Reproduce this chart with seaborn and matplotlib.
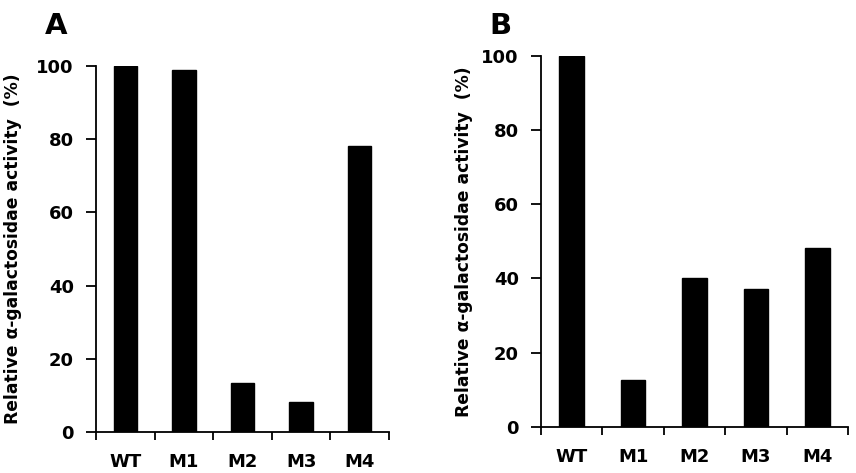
import matplotlib
matplotlib.use("Agg")
import matplotlib.pyplot as plt
import seaborn as sns
import pandas as pd
import numpy as np

sns.set_theme(style="ticks")
plt.rcParams['font.family'] = ['DejaVu Sans']
plt.rcParams['text.color'] = 'black'
plt.rcParams['axes.labelcolor'] = 'black'
plt.rcParams['xtick.color'] = 'black'
plt.rcParams['ytick.color'] = 'black'

strains = ["WT", "M1", "M2", "M3", "M4"]
activity_a = [100, 99, 13.3, 8.1, 78.2]
activity_b = [100, 12.6, 40.0, 37.1, 48.1]
ylabel = "Relative \u03b1-galactosidae activity  (%)"


def draw_panel(ax, values, letter, label_x):
    df = pd.DataFrame({"strain": strains, "activity": values})
    sns.barplot(data=df, x="strain", y="activity", color="black",
                width=0.4, ax=ax, saturation=1)
    ax.set_xlim(-0.5, len(strains) - 0.5)
    ax.set_ylim(0, 100)
    ax.set_yticks([0, 20, 40, 60, 80, 100])
    ax.set_xlabel("")
    ax.set_ylabel(ylabel, fontsize=12.3, fontweight="bold")
    ax.yaxis.set_label_coords(label_x, 0.5)
    sns.despine(ax=ax)
    for s in ["left", "bottom"]:
        ax.spines[s].set_linewidth(1.3)
        ax.spines[s].set_color("black")
    # category boundary ticks on x, no ticks at labels
    ax.set_xticks(np.arange(-0.5, len(strains), 1.0), minor=True)
    ax.tick_params(axis="x", which="major", length=0, pad=15,
                   labelsize=13)
    ax.tick_params(axis="x", which="minor", length=6, width=1.3,
                   direction="out")
    ax.tick_params(axis="y", length=7, width=1.3, labelsize=13, pad=9)
    for t in ax.get_xticklabels() + ax.get_yticklabels():
        t.set_fontweight("bold")
    for b in ax.patches:
        b.set_edgecolor("black")
    ax.figure.text(ax.get_position().x0 - 0.06, 0.945, letter,
                   fontsize=21, fontweight="bold", va="center")


fig = plt.figure(figsize=(8.56, 4.73), dpi=100)
ax_a = fig.add_axes([0.1121, 0.0867, 0.3423, 0.7738])
ax_b = fig.add_axes([0.632, 0.0979, 0.3587, 0.7837])

draw_panel(ax_a, activity_a, "A", -0.253)
draw_panel(ax_b, activity_b, "B", -0.222)

fig.savefig("out.png", dpi=100)
